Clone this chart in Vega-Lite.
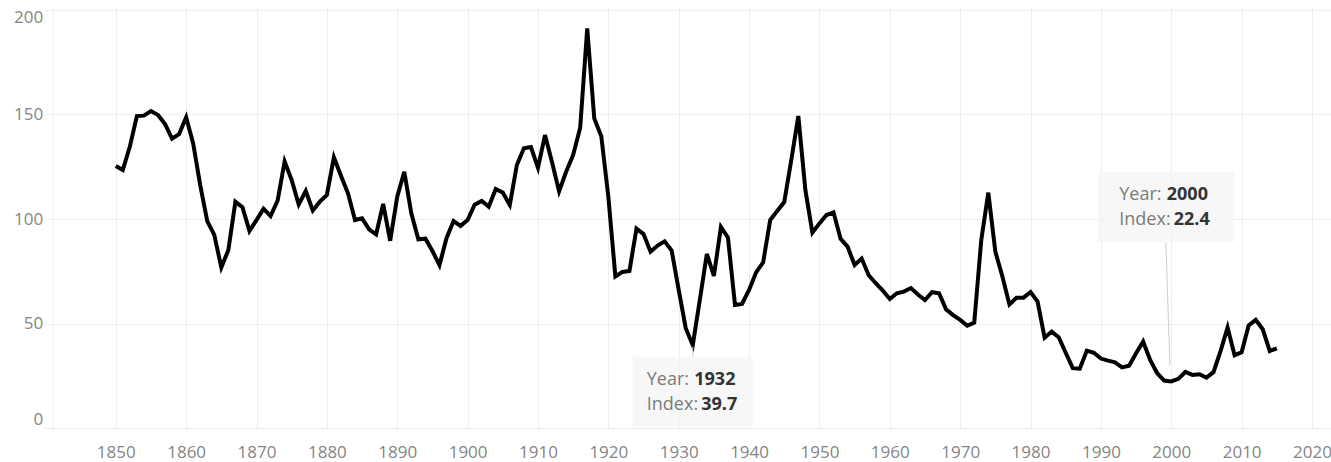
{
  "$schema": "https://vega.github.io/schema/vega-lite/v6.json",
  "width": 1287,
  "height": 423.5,
  "autosize": {"type": "none"},
  "padding": {"left": 44, "top": 6, "right": 0, "bottom": 32.5},
  "background": "white",
  "config": {
    "view": {"stroke": null},
    "font": "Open Sans",
    "axis": {
      "labelFont": "Open Sans",
      "labelFontSize": 17,
      "labelColor": "#858585",
      "gridColor": "#eeeeee",
      "gridWidth": 1,
      "ticks": false,
      "title": null
    }
  },
  "datasets": {
    "series": [
      {"year": 1850, "index": 125.3}, {"year": 1851, "index": 123.4}, {"year": 1852, "index": 134.6},
      {"year": 1853, "index": 149.2}, {"year": 1854, "index": 149.4}, {"year": 1855, "index": 151.6},
      {"year": 1856, "index": 149.7}, {"year": 1857, "index": 145.4}, {"year": 1858, "index": 138.4},
      {"year": 1859, "index": 140.6}, {"year": 1860, "index": 148.6}, {"year": 1861, "index": 136.1},
      {"year": 1862, "index": 116.2}, {"year": 1863, "index": 99.0}, {"year": 1864, "index": 92.4},
      {"year": 1865, "index": 76.8}, {"year": 1866, "index": 85.2}, {"year": 1867, "index": 108.3},
      {"year": 1868, "index": 105.6}, {"year": 1869, "index": 94.3}, {"year": 1870, "index": 99.5},
      {"year": 1871, "index": 104.9}, {"year": 1872, "index": 101.4}, {"year": 1873, "index": 108.8},
      {"year": 1874, "index": 127.5}, {"year": 1875, "index": 118.6}, {"year": 1876, "index": 107.0},
      {"year": 1877, "index": 113.4}, {"year": 1878, "index": 104.1}, {"year": 1879, "index": 108.3},
      {"year": 1880, "index": 111.5}, {"year": 1881, "index": 129.5}, {"year": 1882, "index": 120.7},
      {"year": 1883, "index": 112.3}, {"year": 1884, "index": 99.5}, {"year": 1885, "index": 100.3},
      {"year": 1886, "index": 95.1}, {"year": 1887, "index": 92.7}, {"year": 1888, "index": 107.2},
      {"year": 1889, "index": 89.6}, {"year": 1890, "index": 110.7}, {"year": 1891, "index": 122.6},
      {"year": 1892, "index": 102.7}, {"year": 1893, "index": 90.3}, {"year": 1894, "index": 90.6},
      {"year": 1895, "index": 84.7}, {"year": 1896, "index": 78.0}, {"year": 1897, "index": 90.8},
      {"year": 1898, "index": 99.0}, {"year": 1899, "index": 96.7}, {"year": 1900, "index": 99.5},
      {"year": 1901, "index": 106.8}, {"year": 1902, "index": 108.6}, {"year": 1903, "index": 105.9},
      {"year": 1904, "index": 114.3}, {"year": 1905, "index": 112.7}, {"year": 1906, "index": 106.7},
      {"year": 1907, "index": 125.8}, {"year": 1908, "index": 133.8}, {"year": 1909, "index": 134.4},
      {"year": 1910, "index": 124.5}, {"year": 1911, "index": 140.1}, {"year": 1912, "index": 127.1},
      {"year": 1913, "index": 113.2}, {"year": 1914, "index": 122.6}, {"year": 1915, "index": 130.6},
      {"year": 1916, "index": 143.6}, {"year": 1917, "index": 191.1}, {"year": 1918, "index": 148.1},
      {"year": 1919, "index": 139.6}, {"year": 1920, "index": 110.7}, {"year": 1921, "index": 72.5},
      {"year": 1922, "index": 74.7}, {"year": 1923, "index": 75.2}, {"year": 1924, "index": 95.4},
      {"year": 1925, "index": 92.8}, {"year": 1926, "index": 84.4}, {"year": 1927, "index": 87.3},
      {"year": 1928, "index": 89.3}, {"year": 1929, "index": 84.9}, {"year": 1930, "index": 66.1},
      {"year": 1931, "index": 47.8}, {"year": 1932, "index": 39.7}, {"year": 1933, "index": 61.3},
      {"year": 1934, "index": 83.3}, {"year": 1935, "index": 72.8}, {"year": 1936, "index": 96.2},
      {"year": 1937, "index": 91.1}, {"year": 1938, "index": 58.9}, {"year": 1939, "index": 59.4},
      {"year": 1940, "index": 66.1}, {"year": 1941, "index": 74.5}, {"year": 1942, "index": 79.3},
      {"year": 1943, "index": 99.5}, {"year": 1944, "index": 103.8}, {"year": 1945, "index": 108.1},
      {"year": 1946, "index": 128.2}, {"year": 1947, "index": 149.2}, {"year": 1948, "index": 113.9},
      {"year": 1949, "index": 93.5}, {"year": 1950, "index": 97.9}, {"year": 1951, "index": 101.9},
      {"year": 1952, "index": 103.2}, {"year": 1953, "index": 90.6}, {"year": 1954, "index": 86.8},
      {"year": 1955, "index": 78.0}, {"year": 1956, "index": 81.1}, {"year": 1957, "index": 73.1},
      {"year": 1958, "index": 69.3}, {"year": 1959, "index": 65.8}, {"year": 1960, "index": 61.8},
      {"year": 1961, "index": 64.5}, {"year": 1962, "index": 65.3}, {"year": 1963, "index": 67.0},
      {"year": 1964, "index": 63.9}, {"year": 1965, "index": 61.3}, {"year": 1966, "index": 65.0},
      {"year": 1967, "index": 64.5}, {"year": 1968, "index": 56.8}, {"year": 1969, "index": 54.1},
      {"year": 1970, "index": 51.8}, {"year": 1971, "index": 49.0}, {"year": 1972, "index": 50.5},
      {"year": 1973, "index": 90.0}, {"year": 1974, "index": 112.6}, {"year": 1975, "index": 84.4},
      {"year": 1976, "index": 72.5}, {"year": 1977, "index": 59.2}, {"year": 1978, "index": 62.4},
      {"year": 1979, "index": 62.4}, {"year": 1980, "index": 65.1}, {"year": 1981, "index": 60.5},
      {"year": 1982, "index": 43.3}, {"year": 1983, "index": 46.2}, {"year": 1984, "index": 43.5},
      {"year": 1985, "index": 36.1}, {"year": 1986, "index": 28.7}, {"year": 1987, "index": 28.5},
      {"year": 1988, "index": 37.1}, {"year": 1989, "index": 36.1}, {"year": 1990, "index": 33.3},
      {"year": 1991, "index": 32.3}, {"year": 1992, "index": 31.5}, {"year": 1993, "index": 29.1},
      {"year": 1994, "index": 29.9}, {"year": 1995, "index": 35.8}, {"year": 1996, "index": 41.4},
      {"year": 1997, "index": 32.6}, {"year": 1998, "index": 26.3}, {"year": 1999, "index": 22.8},
      {"year": 2000, "index": 22.4}, {"year": 2001, "index": 23.6}, {"year": 2002, "index": 26.9},
      {"year": 2003, "index": 25.5}, {"year": 2004, "index": 25.8}, {"year": 2005, "index": 24.2},
      {"year": 2006, "index": 26.8}, {"year": 2007, "index": 36.9}, {"year": 2008, "index": 48.1},
      {"year": 2009, "index": 34.9}, {"year": 2010, "index": 36.3}, {"year": 2011, "index": 49.2},
      {"year": 2012, "index": 51.8}, {"year": 2013, "index": 47.3}, {"year": 2014, "index": 36.9},
      {"year": 2015, "index": 38.2}
    ],
    "notes": [
      {"year": 1932, "index": 39.7},
      {"year": 2000, "index": 22.4}
    ]
  },
  "layer": [
    {
      "data": {"name": "series"},
      "mark": {"type": "line", "color": "#000000", "strokeWidth": 4},
      "encoding": {
        "x": {
          "field": "year",
          "type": "quantitative",
          "scale": {"domain": [1839.8, 2022.7], "nice": false, "zero": false},
          "axis": {
            "values": [1850, 1860, 1870, 1880, 1890, 1900, 1910, 1920, 1930, 1940, 1950, 1960, 1970, 1980, 1990, 2000, 2010, 2020],
            "format": "d",
            "grid": true,
            "domain": false,
            "labelPadding": 15
          }
        },
        "y": {
          "field": "index",
          "type": "quantitative",
          "scale": {"domain": [-0.6, 201.8], "nice": false, "zero": false},
          "axis": {
            "values": [0, 50, 100, 150, 200],
            "grid": true,
            "domain": true,
            "domainColor": "#eeeeee",
            "domainWidth": 1,
            "offset": -8.7,
            "labelPadding": 10,
            "labelFlush": 10
          }
        }
      }
    },
    {
      "data": {"name": "notes"},
      "transform": [{"filter": "datum.year == 1932"}],
      "encoding": {
        "x": {"field": "year", "type": "quantitative"},
        "y": {"field": "index", "type": "quantitative"}
      },
      "layer": [
        {
          "mark": {"type": "rect", "fill": "#f4f4f4", "opacity": 0.75, "xOffset": -60, "x2Offset": 60, "yOffset": 11.5, "y2Offset": 82},
          "encoding": {"x2": {"field": "year"}, "y2": {"field": "index"}}
        },
        {
          "mark": {"type": "rule", "color": "#cccccc", "strokeWidth": 1, "yOffset": 1.5, "y2Offset": 11.5},
          "encoding": {"x2": {"field": "year"}, "y2": {"field": "index"}}
        },
        {
          "mark": {"type": "text", "align": "left", "baseline": "middle", "fontSize": 18, "color": "#7c7c7c", "xOffset": -46, "yOffset": 34.8},
          "encoding": {"text": {"value": "Year:"}}
        },
        {
          "mark": {"type": "text", "align": "left", "baseline": "middle", "fontSize": 18, "color": "#7c7c7c", "xOffset": -46, "yOffset": 59.8},
          "encoding": {"text": {"value": "Index:"}}
        },
        {
          "mark": {"type": "text", "align": "left", "baseline": "middle", "fontSize": 18, "fontWeight": "bold", "color": "#333333", "xOffset": 1.5, "yOffset": 34.8},
          "encoding": {"text": {"field": "year", "type": "quantitative", "format": "d"}}
        },
        {
          "mark": {"type": "text", "align": "left", "baseline": "middle", "fontSize": 18, "fontWeight": "bold", "color": "#333333", "xOffset": 8.5, "yOffset": 59.8},
          "encoding": {"text": {"field": "index", "type": "quantitative", "format": ".1f"}}
        }
      ]
    },
    {
      "data": {"name": "notes"},
      "transform": [{"filter": "datum.year == 2000"}],
      "encoding": {
        "x": {"field": "year", "type": "quantitative"},
        "y": {"field": "index", "type": "quantitative"}
      },
      "layer": [
        {
          "mark": {"type": "rect", "fill": "#f4f4f4", "opacity": 0.75, "xOffset": -73.4, "x2Offset": 62.6, "yOffset": -209.1, "y2Offset": -139.1},
          "encoding": {"x2": {"field": "year"}, "y2": {"field": "index"}}
        },
        {
          "mark": {"type": "rule", "color": "#cccccc", "strokeWidth": 1, "xOffset": -5.4, "yOffset": -139.1, "x2Offset": -1.4, "y2Offset": -16.4},
          "encoding": {"x2": {"field": "year"}, "y2": {"field": "index"}}
        },
        {
          "mark": {"type": "text", "align": "left", "baseline": "middle", "fontSize": 18, "color": "#7c7c7c", "xOffset": -52, "yOffset": -186.4},
          "encoding": {"text": {"value": "Year:"}}
        },
        {
          "mark": {"type": "text", "align": "left", "baseline": "middle", "fontSize": 18, "color": "#7c7c7c", "xOffset": -52, "yOffset": -161.4},
          "encoding": {"text": {"value": "Index:"}}
        },
        {
          "mark": {"type": "text", "align": "left", "baseline": "middle", "fontSize": 18, "fontWeight": "bold", "color": "#333333", "xOffset": -4.5, "yOffset": -186.4},
          "encoding": {"text": {"field": "year", "type": "quantitative", "format": "d"}}
        },
        {
          "mark": {"type": "text", "align": "left", "baseline": "middle", "fontSize": 18, "fontWeight": "bold", "color": "#333333", "xOffset": 2.5, "yOffset": -161.4},
          "encoding": {"text": {"field": "index", "type": "quantitative", "format": ".1f"}}
        }
      ]
    }
  ]
}
